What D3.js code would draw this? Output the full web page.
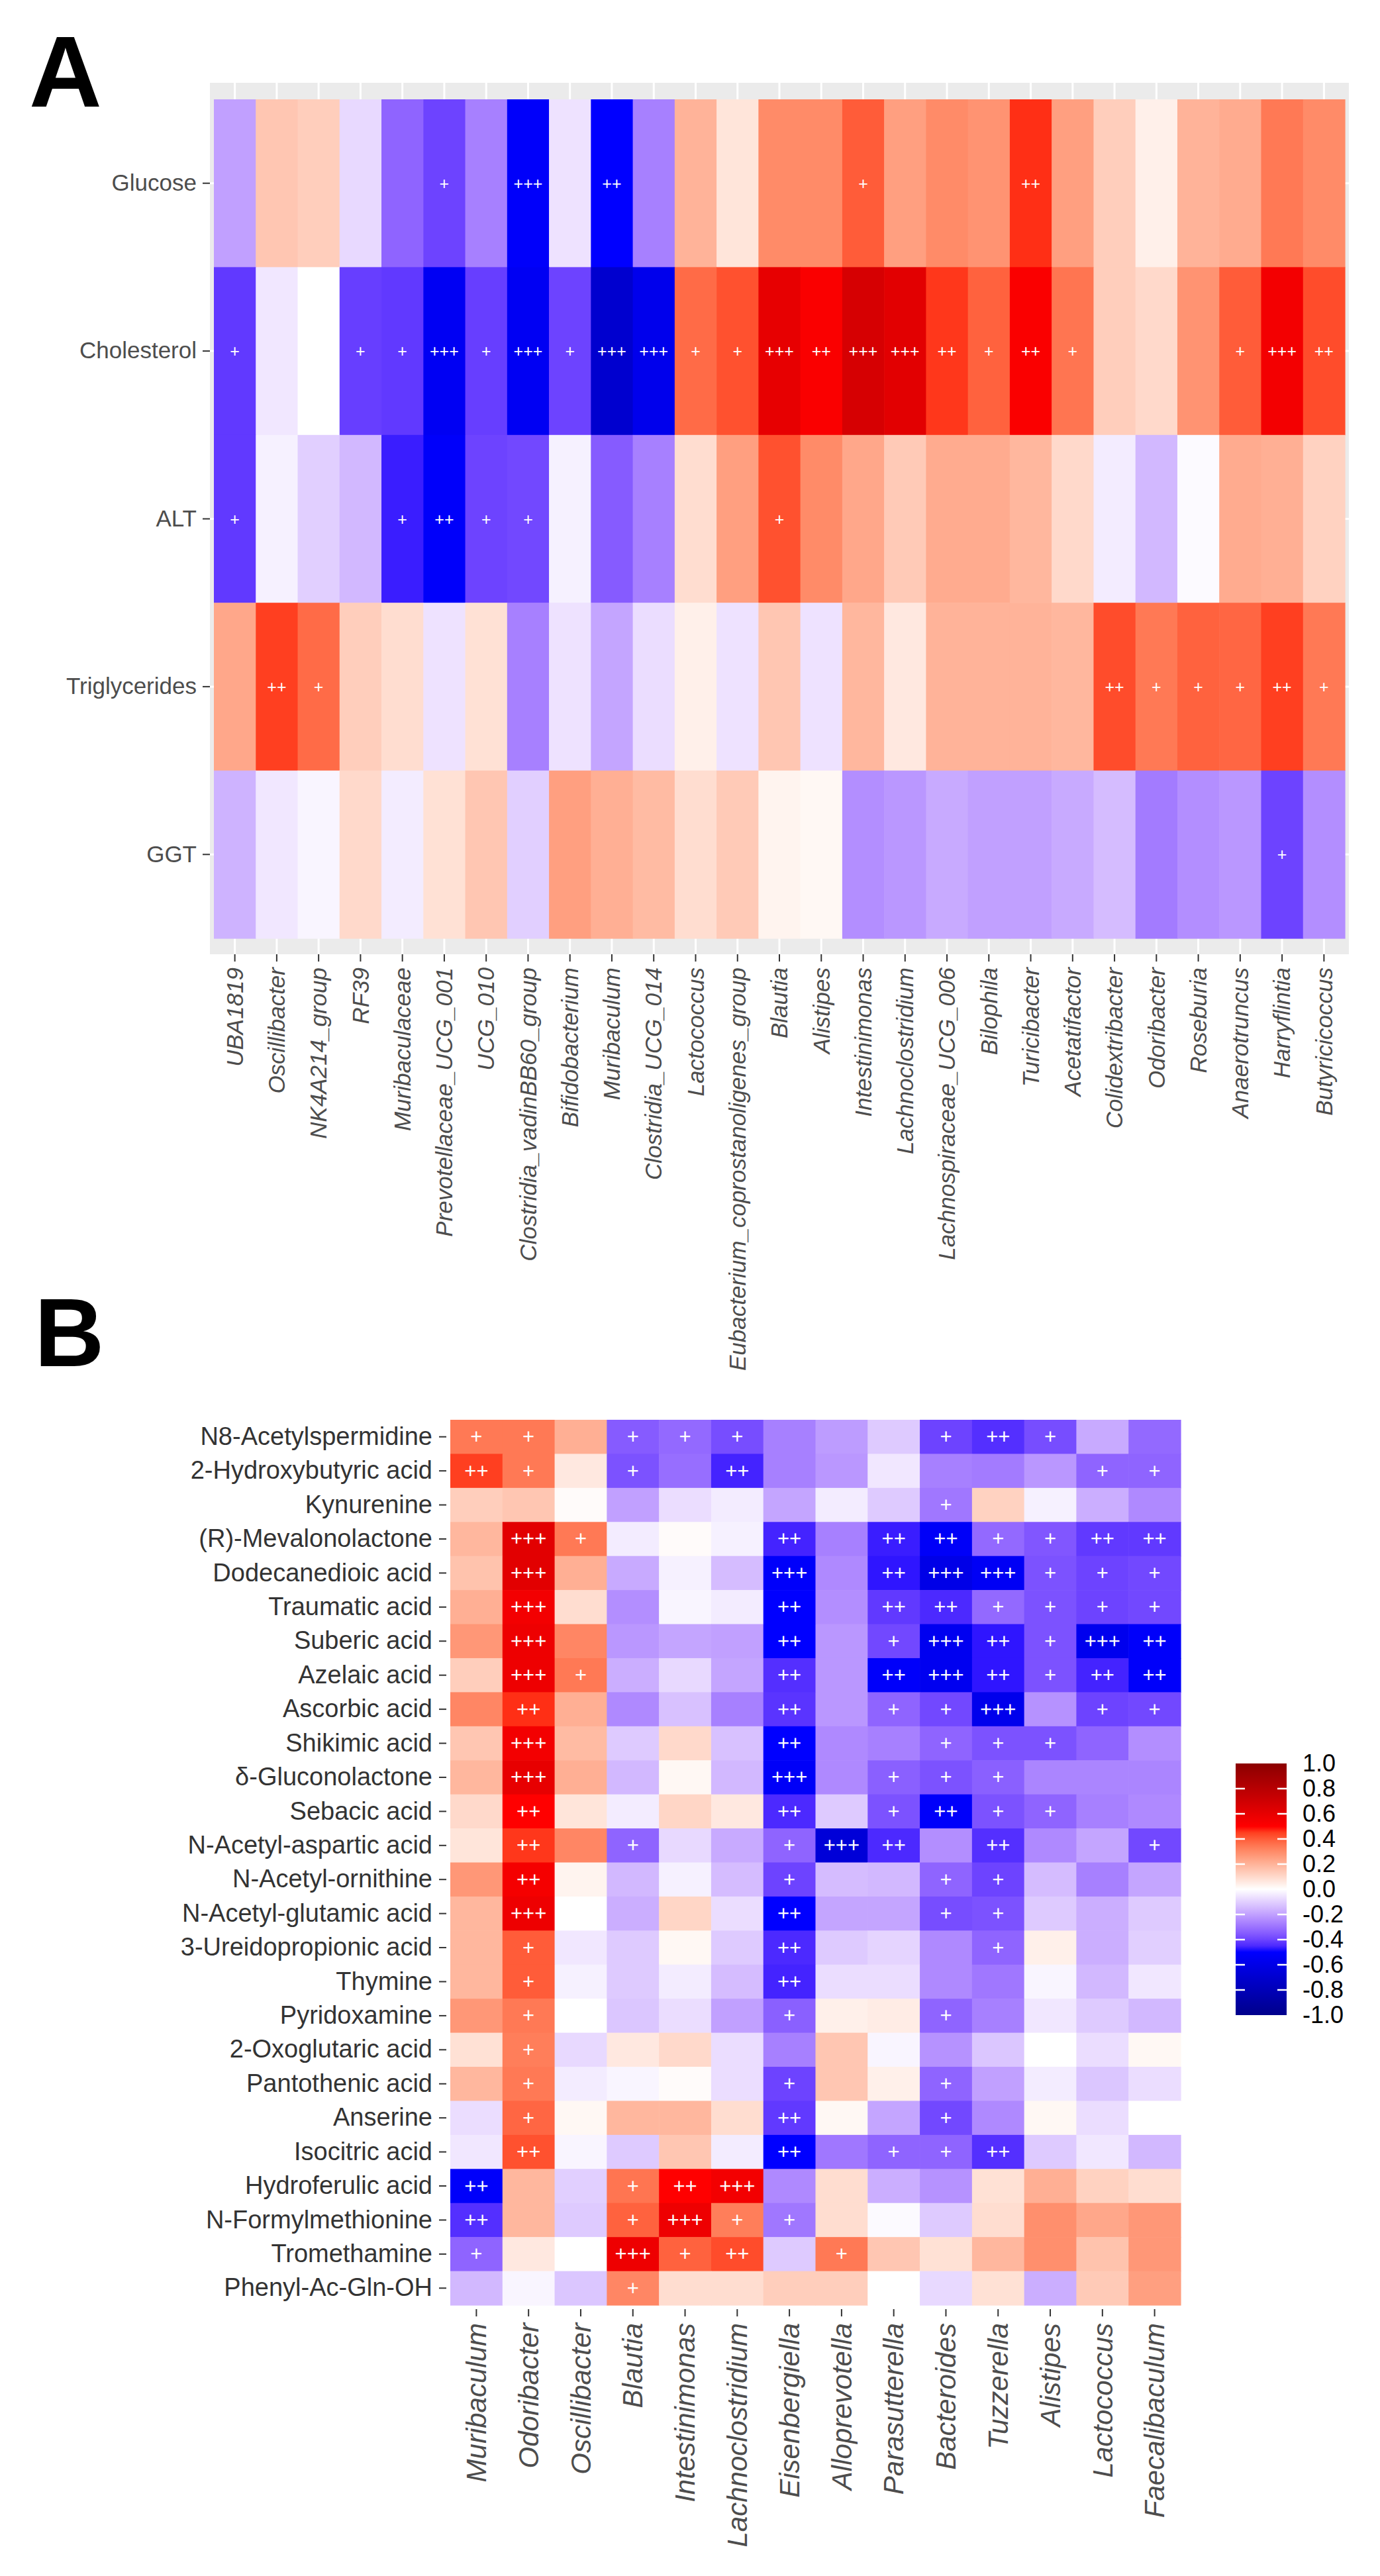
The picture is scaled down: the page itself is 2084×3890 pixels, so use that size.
<!DOCTYPE html>
<html>
<head>
<meta charset="utf-8">
<script src="https://cdn.jsdelivr.net/npm/d3@7"></script>
<style>
  body { margin: 0; background: #fff; }
</style>
</head>
<body>
<script>
// ---------- data: panel A (clinical indices x genera) ----------
var clinical = ["Glucose", "Cholesterol", "ALT", "Triglycerides", "GGT"];

var taxaA = ["UBA1819", "Oscillibacter", "NK4A214_group", "RF39", "Muribaculaceae",
  "Prevotellaceae_UCG_001", "UCG_010", "Clostridia_vadinBB60_group", "Bifidobacterium",
  "Muribaculum", "Clostridia_UCG_014", "Lactococcus", "Eubacterium_coprostanoligenes_group",
  "Blautia", "Alistipes", "Intestinimonas", "Lachnoclostridium", "Lachnospiraceae_UCG_006",
  "Bilophila", "Turicibacter", "Acetatifactor", "Colidextribacter", "Odoribacter",
  "Roseburia", "Anaerotruncus", "Harryflintia", "Butyricicoccus"];

var corrA = [
  [-0.20, 0.15, 0.13, -0.08, -0.33, -0.40, -0.27, -0.52, -0.06, -0.50, -0.27, 0.20, 0.07, 0.30, 0.30, 0.40, 0.25, 0.30, 0.28, 0.47, 0.25, 0.13, 0.04, 0.20, 0.22, 0.34, 0.30],
  [-0.42, -0.05, 0.00, -0.41, -0.42, -0.55, -0.41, -0.55, -0.40, -0.70, -0.58, 0.37, 0.42, 0.60, 0.52, 0.67, 0.62, 0.46, 0.39, 0.52, 0.35, 0.13, 0.10, 0.28, 0.40, 0.55, 0.43],
  [-0.42, -0.03, -0.10, -0.15, -0.47, -0.52, -0.40, -0.39, -0.03, -0.35, -0.27, 0.09, 0.25, 0.42, 0.30, 0.23, 0.14, 0.22, 0.22, 0.19, 0.10, -0.04, -0.15, -0.01, 0.22, 0.21, 0.12],
  [0.23, 0.45, 0.37, 0.13, 0.09, -0.06, 0.08, -0.27, -0.06, -0.19, -0.07, 0.04, -0.06, 0.15, -0.06, 0.19, 0.06, 0.20, 0.20, 0.20, 0.19, 0.43, 0.34, 0.39, 0.38, 0.45, 0.34],
  [-0.16, -0.05, -0.02, 0.10, -0.04, 0.08, 0.15, -0.10, 0.25, 0.21, 0.18, 0.09, 0.14, 0.03, 0.02, -0.24, -0.22, -0.18, -0.20, -0.20, -0.18, -0.14, -0.28, -0.24, -0.22, -0.40, -0.24]
];

// number of "+" marks per cell
var sigA = [
  [0, 0, 0, 0, 0, 1, 0, 3, 0, 2, 0, 0, 0, 0, 0, 1, 0, 0, 0, 2, 0, 0, 0, 0, 0, 0, 0],
  [1, 0, 0, 1, 1, 3, 1, 3, 1, 3, 3, 1, 1, 3, 2, 3, 3, 2, 1, 2, 1, 0, 0, 0, 1, 3, 2],
  [1, 0, 0, 0, 1, 2, 1, 1, 0, 0, 0, 0, 0, 1, 0, 0, 0, 0, 0, 0, 0, 0, 0, 0, 0, 0, 0],
  [0, 2, 1, 0, 0, 0, 0, 0, 0, 0, 0, 0, 0, 0, 0, 0, 0, 0, 0, 0, 0, 2, 1, 1, 1, 2, 1],
  [0, 0, 0, 0, 0, 0, 0, 0, 0, 0, 0, 0, 0, 0, 0, 0, 0, 0, 0, 0, 0, 0, 0, 0, 0, 1, 0]
];

// ---------- data: panel B (metabolites x genera) ----------
var metabolites = ["N8-Acetylspermidine", "2-Hydroxybutyric acid", "Kynurenine",
  "(R)-Mevalonolactone", "Dodecanedioic acid", "Traumatic acid", "Suberic acid",
  "Azelaic acid", "Ascorbic acid", "Shikimic acid", "δ-Gluconolactone", "Sebacic acid",
  "N-Acetyl-aspartic acid", "N-Acetyl-ornithine", "N-Acetyl-glutamic acid",
  "3-Ureidopropionic acid", "Thymine", "Pyridoxamine", "2-Oxoglutaric acid",
  "Pantothenic acid", "Anserine", "Isocitric acid", "Hydroferulic acid",
  "N-Formylmethionine", "Tromethamine", "Phenyl-Ac-Gln-OH"];

var taxaB = ["Muribaculum", "Odoribacter", "Oscillibacter", "Blautia", "Intestinimonas",
  "Lachnoclostridium", "Eisenbergiella", "Alloprevotella", "Parasutterella",
  "Bacteroides", "Tuzzerella", "Alistipes", "Lactococcus", "Faecalibaculum"];

var corrB = [
  [0.34, 0.34, 0.21, -0.35, -0.32, -0.38, -0.27, -0.21, -0.11, -0.40, -0.44, -0.38, -0.18, -0.32],
  [0.45, 0.34, 0.06, -0.37, -0.31, -0.46, -0.27, -0.22, -0.05, -0.27, -0.28, -0.22, -0.33, -0.33],
  [0.13, 0.15, 0.01, -0.20, -0.07, -0.04, -0.19, -0.04, -0.11, -0.29, 0.12, -0.03, -0.17, -0.25],
  [0.19, 0.62, 0.34, -0.04, 0.01, -0.03, -0.46, -0.27, -0.47, -0.53, -0.32, -0.36, -0.42, -0.42],
  [0.16, 0.62, 0.21, -0.18, -0.03, -0.14, -0.52, -0.25, -0.48, -0.60, -0.54, -0.37, -0.40, -0.39],
  [0.21, 0.55, 0.09, -0.24, -0.02, -0.04, -0.50, -0.24, -0.42, -0.45, -0.32, -0.37, -0.40, -0.39],
  [0.27, 0.57, 0.31, -0.22, -0.19, -0.20, -0.50, -0.22, -0.39, -0.56, -0.48, -0.37, -0.57, -0.52],
  [0.13, 0.57, 0.34, -0.17, -0.08, -0.19, -0.44, -0.22, -0.52, -0.56, -0.48, -0.37, -0.46, -0.52],
  [0.31, 0.47, 0.21, -0.25, -0.13, -0.27, -0.43, -0.22, -0.33, -0.39, -0.58, -0.23, -0.40, -0.39],
  [0.15, 0.55, 0.18, -0.11, 0.10, -0.13, -0.50, -0.25, -0.27, -0.33, -0.37, -0.37, -0.33, -0.24],
  [0.19, 0.60, 0.21, -0.15, 0.02, -0.15, -0.53, -0.25, -0.34, -0.37, -0.34, -0.26, -0.26, -0.26],
  [0.10, 0.50, 0.07, -0.04, 0.11, 0.06, -0.45, -0.11, -0.37, -0.52, -0.37, -0.33, -0.27, -0.25],
  [0.07, 0.46, 0.31, -0.33, -0.08, -0.18, -0.33, -0.66, -0.45, -0.24, -0.44, -0.25, -0.19, -0.39],
  [0.27, 0.54, 0.03, -0.15, -0.03, -0.14, -0.40, -0.14, -0.15, -0.33, -0.40, -0.14, -0.27, -0.19],
  [0.19, 0.57, 0.00, -0.17, 0.11, -0.07, -0.50, -0.19, -0.19, -0.38, -0.37, -0.11, -0.17, -0.11],
  [0.19, 0.40, -0.05, -0.11, 0.02, -0.11, -0.45, -0.11, -0.09, -0.25, -0.33, 0.04, -0.17, -0.10],
  [0.19, 0.40, -0.03, -0.11, -0.04, -0.14, -0.46, -0.07, -0.07, -0.25, -0.29, -0.02, -0.15, -0.05],
  [0.27, 0.34, 0.00, -0.12, -0.07, -0.20, -0.34, 0.04, 0.05, -0.33, -0.27, -0.05, -0.11, -0.15],
  [0.08, 0.33, -0.08, 0.06, 0.10, -0.07, -0.27, 0.15, -0.02, -0.23, -0.12, 0.00, -0.07, 0.02],
  [0.19, 0.34, -0.04, -0.02, 0.01, -0.07, -0.40, 0.15, 0.04, -0.33, -0.20, -0.04, -0.12, -0.07],
  [-0.07, 0.38, 0.02, 0.19, 0.19, 0.09, -0.42, 0.02, -0.19, -0.39, -0.25, 0.02, -0.07, 0.00],
  [-0.05, 0.42, -0.02, -0.11, 0.15, -0.04, -0.50, -0.29, -0.33, -0.33, -0.44, -0.11, -0.05, -0.15],
  [-0.52, 0.19, -0.10, 0.35, 0.50, 0.55, -0.25, 0.09, -0.17, -0.23, 0.08, 0.21, 0.12, 0.09],
  [-0.44, 0.19, -0.11, 0.39, 0.57, 0.33, -0.29, 0.09, -0.01, -0.11, 0.09, 0.29, 0.23, 0.27],
  [-0.33, 0.06, 0.00, 0.57, 0.39, 0.43, -0.11, 0.34, 0.15, 0.08, 0.19, 0.29, 0.16, 0.27],
  [-0.15, -0.02, -0.12, 0.31, 0.09, 0.09, 0.13, 0.13, 0.00, -0.08, 0.08, -0.17, 0.14, 0.25]
];

var sigB = [
  [1, 1, 0, 1, 1, 1, 0, 0, 0, 1, 2, 1, 0, 0],
  [2, 1, 0, 1, 0, 2, 0, 0, 0, 0, 0, 0, 1, 1],
  [0, 0, 0, 0, 0, 0, 0, 0, 0, 1, 0, 0, 0, 0],
  [0, 3, 1, 0, 0, 0, 2, 0, 2, 2, 1, 1, 2, 2],
  [0, 3, 0, 0, 0, 0, 3, 0, 2, 3, 3, 1, 1, 1],
  [0, 3, 0, 0, 0, 0, 2, 0, 2, 2, 1, 1, 1, 1],
  [0, 3, 0, 0, 0, 0, 2, 0, 1, 3, 2, 1, 3, 2],
  [0, 3, 1, 0, 0, 0, 2, 0, 2, 3, 2, 1, 2, 2],
  [0, 2, 0, 0, 0, 0, 2, 0, 1, 1, 3, 0, 1, 1],
  [0, 3, 0, 0, 0, 0, 2, 0, 0, 1, 1, 1, 0, 0],
  [0, 3, 0, 0, 0, 0, 3, 0, 1, 1, 1, 0, 0, 0],
  [0, 2, 0, 0, 0, 0, 2, 0, 1, 2, 1, 1, 0, 0],
  [0, 2, 0, 1, 0, 0, 1, 3, 2, 0, 2, 0, 0, 1],
  [0, 2, 0, 0, 0, 0, 1, 0, 0, 1, 1, 0, 0, 0],
  [0, 3, 0, 0, 0, 0, 2, 0, 0, 1, 1, 0, 0, 0],
  [0, 1, 0, 0, 0, 0, 2, 0, 0, 0, 1, 0, 0, 0],
  [0, 1, 0, 0, 0, 0, 2, 0, 0, 0, 0, 0, 0, 0],
  [0, 1, 0, 0, 0, 0, 1, 0, 0, 1, 0, 0, 0, 0],
  [0, 1, 0, 0, 0, 0, 0, 0, 0, 0, 0, 0, 0, 0],
  [0, 1, 0, 0, 0, 0, 1, 0, 0, 1, 0, 0, 0, 0],
  [0, 1, 0, 0, 0, 0, 2, 0, 0, 1, 0, 0, 0, 0],
  [0, 2, 0, 0, 0, 0, 2, 0, 1, 1, 2, 0, 0, 0],
  [2, 0, 0, 1, 2, 3, 0, 0, 0, 0, 0, 0, 0, 0],
  [2, 0, 0, 1, 3, 1, 1, 0, 0, 0, 0, 0, 0, 0],
  [1, 0, 0, 3, 1, 2, 0, 1, 0, 0, 0, 0, 0, 0],
  [0, 0, 0, 1, 0, 0, 0, 0, 0, 0, 0, 0, 0, 0]
];

var legendTicks = [1.0, 0.8, 0.6, 0.4, 0.2, 0.0, -0.2, -0.4, -0.6, -0.8, -1.0];

// ---------- setup ----------
var width = 2084, height = 3890;
var font = "'Liberation Sans', Arial, Helvetica, sans-serif";

var svg = d3.select("body").append("svg")
    .attr("width", width)
    .attr("height", height)
    .attr("font-family", font);

svg.append("rect").attr("width", width).attr("height", height).attr("fill", "#fff");

// blue - white - red, interpolated in Lab like ggplot
var color = d3.scaleLinear()
    .domain([-1, -0.5, 0, 0.5, 1])
    .range(["#00008B", "#0000FF", "#FFFFFF", "#FF0000", "#8B0000"])
    .interpolate(d3.interpolateLab)
    .clamp(true);

function cellsFrom(rows, cols, vals, sigs) {
  var out = [];
  rows.forEach(function(r, i) {
    cols.forEach(function(c, j) {
      out.push({row: r, col: c, v: vals[i][j], s: sigs[i][j]});
    });
  });
  return out;
}

function styleAxis(g, size, fill, italic) {
  g.select(".domain").remove();
  g.attr("font-family", font).attr("font-size", size);
  g.selectAll(".tick line").attr("stroke", "#333").attr("stroke-width", 2);
  g.selectAll(".tick text").attr("fill", fill).attr("font-style", italic ? "italic" : "normal");
}

// ---------- panel A ----------
var panelA = svg.append("g").attr("id", "panelA");

var xA = d3.scaleBand().domain(taxaA).range([323, 2031]);
var yA = d3.scaleBand().domain(clinical).range([150, 1417]);

// grey ggplot panel with white grid lines
panelA.append("rect")
    .attr("x", 317).attr("y", 125)
    .attr("width", 2037 - 317).attr("height", 1441 - 125)
    .attr("fill", "#EBEBEB");

panelA.selectAll("line.vgrid")
    .data(taxaA)
    .enter().append("line")
    .attr("class", "vgrid")
    .attr("x1", function(d) { return xA(d) + xA.bandwidth() / 2; })
    .attr("x2", function(d) { return xA(d) + xA.bandwidth() / 2; })
    .attr("y1", 125).attr("y2", 1441)
    .attr("stroke", "#fff").attr("stroke-width", 3);

panelA.selectAll("line.hgrid")
    .data(clinical)
    .enter().append("line")
    .attr("class", "hgrid")
    .attr("y1", function(d) { return yA(d) + yA.bandwidth() / 2; })
    .attr("y2", function(d) { return yA(d) + yA.bandwidth() / 2; })
    .attr("x1", 317).attr("x2", 2037)
    .attr("stroke", "#fff").attr("stroke-width", 3);

var cellsA = cellsFrom(clinical, taxaA, corrA, sigA);

panelA.selectAll("rect.cell")
    .data(cellsA)
    .enter().append("rect")
    .attr("class", "cell")
    .attr("x", function(d) { return xA(d.col); })
    .attr("y", function(d) { return yA(d.row); })
    .attr("width", xA.bandwidth() + 0.6)
    .attr("height", yA.bandwidth() + 0.6)
    .attr("fill", function(d) { return color(d.v); });

panelA.selectAll("text.sig")
    .data(cellsA.filter(function(d) { return d.s > 0; }))
    .enter().append("text")
    .attr("class", "sig")
    .attr("x", function(d) { return xA(d.col) + xA.bandwidth() / 2; })
    .attr("y", function(d) { return yA(d.row) + yA.bandwidth() / 2; })
    .attr("text-anchor", "middle")
    .attr("dominant-baseline", "central")
    .attr("fill", "#fff")
    .attr("font-size", 25)
    .text(function(d) { return "+".repeat(d.s); });

var yAxisA = panelA.append("g")
    .attr("transform", "translate(317,0)")
    .call(d3.axisLeft(yA).tickSize(11).tickPadding(9));
styleAxis(yAxisA, 35, "#4D4D4D", false);

var xAxisA = panelA.append("g")
    .attr("transform", "translate(0,1441)")
    .call(d3.axisBottom(xA).tickSize(11));
styleAxis(xAxisA, 35, "#4D4D4D", true);
xAxisA.selectAll(".tick text")
    .attr("transform", "rotate(-90)")
    .attr("x", -20).attr("y", 0).attr("dy", "0.35em")
    .attr("text-anchor", "end");

svg.append("text")
    .attr("x", 44).attr("y", 161)
    .attr("font-size", 152).attr("font-weight", "bold")
    .attr("fill", "#000")
    .text("A");

// ---------- panel B ----------
var panelB = svg.append("g").attr("id", "panelB");

var xB = d3.scaleBand().domain(taxaB).range([680, 1783]);
var yB = d3.scaleBand().domain(metabolites).range([2144, 3481]);

var cellsB = cellsFrom(metabolites, taxaB, corrB, sigB);

panelB.selectAll("rect.cell")
    .data(cellsB)
    .enter().append("rect")
    .attr("class", "cell")
    .attr("x", function(d) { return xB(d.col); })
    .attr("y", function(d) { return yB(d.row); })
    .attr("width", xB.bandwidth() + 0.6)
    .attr("height", yB.bandwidth() + 0.6)
    .attr("fill", function(d) { return color(d.v); });

panelB.selectAll("text.sig")
    .data(cellsB.filter(function(d) { return d.s > 0; }))
    .enter().append("text")
    .attr("class", "sig")
    .attr("x", function(d) { return xB(d.col) + xB.bandwidth() / 2; })
    .attr("y", function(d) { return yB(d.row) + yB.bandwidth() / 2; })
    .attr("text-anchor", "middle")
    .attr("dominant-baseline", "central")
    .attr("fill", "#fff")
    .attr("font-size", 31)
    .text(function(d) { return "+".repeat(d.s); });

var yAxisB = panelB.append("g")
    .attr("transform", "translate(674,0)")
    .call(d3.axisLeft(yB).tickSize(11).tickPadding(10));
styleAxis(yAxisB, 38, "#333", false);

var xAxisB = panelB.append("g")
    .attr("transform", "translate(0,3487)")
    .call(d3.axisBottom(xB).tickSize(11));
styleAxis(xAxisB, 42, "#4D4D4D", true);
xAxisB.selectAll(".tick text")
    .attr("transform", "rotate(-90)")
    .attr("x", -21).attr("y", 0).attr("dy", "0.35em")
    .attr("text-anchor", "end");

svg.append("text")
    .attr("x", 52).attr("y", 2063)
    .attr("font-size", 146).attr("font-weight", "bold")
    .attr("fill", "#000")
    .text("B");

// ---------- colour bar legend ----------
var legY = d3.scaleLinear().domain([1, -1]).range([2663, 3043]);
var legX0 = 1866, legX1 = 1943;

var grad = svg.append("defs").append("linearGradient")
    .attr("id", "legendGrad")
    .attr("x1", 0).attr("y1", 0).attr("x2", 0).attr("y2", 1);
grad.selectAll("stop")
    .data(d3.range(0, 1.0001, 0.025))
    .enter().append("stop")
    .attr("offset", function(t) { return t; })
    .attr("stop-color", function(t) { return color(1 - 2 * t); });

var legend = svg.append("g").attr("id", "legend");

legend.append("rect")
    .attr("x", legX0).attr("y", legY(1))
    .attr("width", legX1 - legX0).attr("height", legY(-1) - legY(1))
    .attr("fill", "url(#legendGrad)");

var innerTicks = legendTicks.filter(function(d) { return Math.abs(d) < 1; });
legend.selectAll("line.lt")
    .data(innerTicks)
    .enter().append("line")
    .attr("class", "lt")
    .attr("x1", legX0).attr("x2", legX0 + 14)
    .attr("y1", function(d) { return legY(d); })
    .attr("y2", function(d) { return legY(d); })
    .attr("stroke", "#fff").attr("stroke-width", 2.5);
legend.selectAll("line.rt")
    .data(innerTicks)
    .enter().append("line")
    .attr("class", "rt")
    .attr("x1", legX1 - 14).attr("x2", legX1)
    .attr("y1", function(d) { return legY(d); })
    .attr("y2", function(d) { return legY(d); })
    .attr("stroke", "#fff").attr("stroke-width", 2.5);

var legAxis = legend.append("g")
    .attr("transform", "translate(" + legX1 + ",0)")
    .call(d3.axisRight(legY)
        .tickValues(legendTicks)
        .tickSize(0)
        .tickPadding(24)
        .tickFormat(function(d) { return d.toFixed(1); }));
legAxis.select(".domain").remove();
legAxis.attr("font-family", font).attr("font-size", 36);
legAxis.selectAll(".tick text").attr("fill", "#000");
</script>
</body>
</html>
